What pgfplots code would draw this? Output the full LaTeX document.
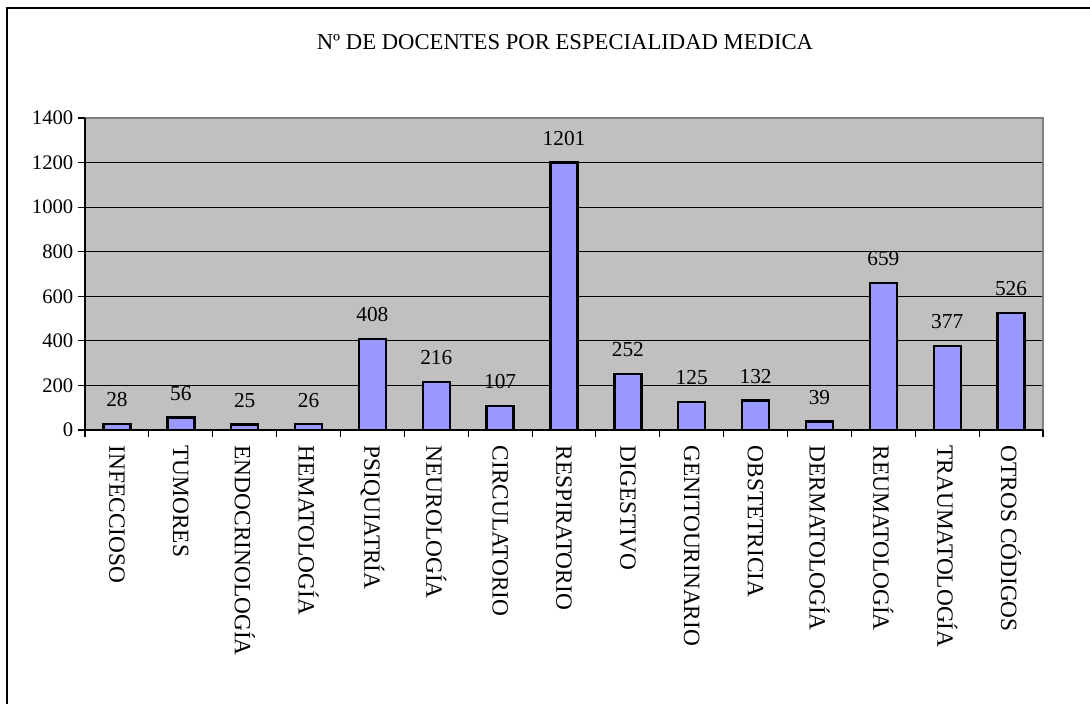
\documentclass[border=0pt]{standalone}
\usepackage{pgfplots}
\pgfplotsset{compat=1.18}
\usepackage{fontspec}
\setmainfont{Liberation Serif}
\definecolor{plotbg}{HTML}{C0C0C0}
\definecolor{barfill}{HTML}{9999FF}
\definecolor{bordergray}{HTML}{808080}
\begin{document}
\begin{tikzpicture}
\path[use as bounding box] (0,0) rectangle (817.5pt,528pt);
\begin{scope}
\clip (0,0) rectangle (817.5pt,528pt);
\draw[line width=1.2pt] (5.25pt,-5pt) -- (5.25pt,522pt) -- (830pt,522pt);
\end{scope}
\node[font=\fontsize{17}{20}\selectfont] at (423.75pt,496.5pt) {Nº DE DOCENTES POR ESPECIALIDAD MEDICA};
\begin{axis}[
  at={(63.75pt,205.5pt)}, anchor=south west,
  scale only axis, width=718.5pt, height=234pt,
  xmin=-0.5, xmax=14.5, ymin=0, ymax=1400,
  ytick={0,200,...,1400},
  xtick={0,...,14},
  xticklabels={INFECCIOSO,TUMORES,ENDOCRINOLOGÍA,HEMATOLOGÍA,PSIQUIATRÍA,NEUROLOGÍA,CIRCULATORIO,RESPIRATORIO,DIGESTIVO,GENITOURINARIO,OBSTETRICIA,DERMATOLOGÍA,REUMATOLOGÍA,TRAUMATOLOGÍA,OTROS CÓDIGOS},
  minor xtick={-0.5,0.5,...,14.5},
  major x tick style={draw=none},
  tick align=outside,
  xtick pos=lower, ytick pos=left,
  major tick length=5.25pt, minor tick length=5.25pt,
  ymajorgrids, grid style={black, line width=0.6pt},
  axis background/.style={fill=plotbg},
  axis line style={draw=none},
  tick style={black, line width=0.8pt},
  /pgf/number format/assume math mode=true,
  /pgf/number format/1000 sep={},
  yticklabel style={font=\fontsize{15.5}{18}\selectfont},
  xticklabel style={font=\fontsize{17.5}{20}\selectfont, rotate=-90, anchor=west, xshift=3pt},
  clip=false,
]
\addplot[ybar, bar width=20.25pt, fill=barfill, draw=black, line width=1.8pt,
  nodes near coords,
  nodes near coords style={font=\fontsize{16}{18}\selectfont, text=black, yshift=8.5pt}]
  coordinates {(0,28) (1,56) (2,25) (3,26) (4,408) (5,216) (6,107) (7,1201) (8,252) (9,125) (10,132) (11,39) (12,659) (13,377) (14,526)};
\draw[bordergray, line width=1.2pt] (rel axis cs:0,1) -- (rel axis cs:1,1) -- (rel axis cs:1,0);
\draw[black, line width=1.2pt] (rel axis cs:0,1) -- (rel axis cs:0,0) -- (rel axis cs:1,0);
\end{axis}
\end{tikzpicture}
\end{document}
